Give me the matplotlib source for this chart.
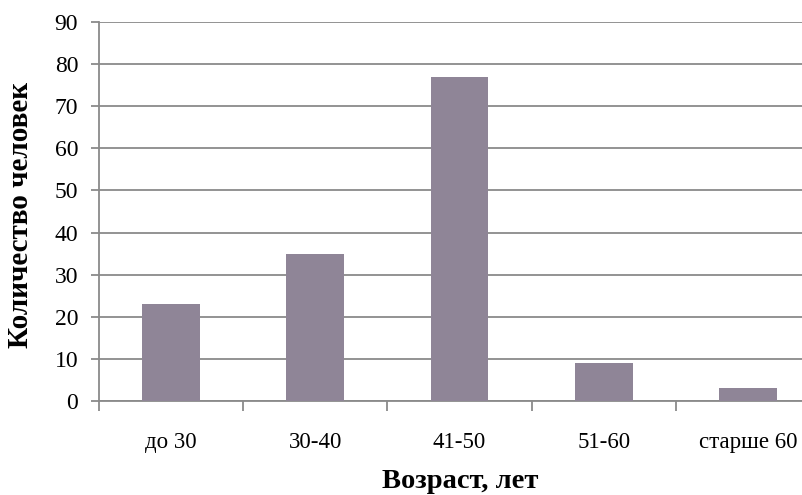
import matplotlib
matplotlib.use("Agg")
import matplotlib.pyplot as plt

# Age groups and number of people
categories = ["до 30", "30-40", "41-50", "51-60", "старше 60"]
counts = [23, 35, 77, 9, 3]
yticks = [0, 10, 20, 30, 40, 50, 60, 70, 80, 90]

bar_color = "#8f8597"
grid_color = "#8a8a8a"

plt.rcParams["font.family"] = ["Liberation Serif", "DejaVu Serif"]

fig = plt.figure(figsize=(8.02, 4.95), dpi=100)
# plot area runs a bit past the right edge, as in the reference
ax = fig.add_axes([99 / 802, 94 / 495, 721 / 802, 379 / 495])

x = list(range(len(categories)))
ax.bar(x, counts, width=0.4, color=bar_color, zorder=3)

ax.set_xlim(-0.5, len(categories) - 0.5)
ax.set_ylim(0, 90)
ax.set_yticks(yticks)
ax.yaxis.grid(True, color=grid_color, linewidth=1.3, zorder=0)

# category boundaries as tick marks, labels centred between them
ax.set_xticks([i - 0.5 for i in range(len(categories) + 1)])
ax.set_xticklabels([])
ax.set_xticks(x, minor=True)
ax.set_xticklabels(categories, minor=True, fontsize=16.5)
ax.tick_params(axis="x", which="major", length=7, width=1.3, color=grid_color, direction="out")
ax.tick_params(axis="x", which="minor", length=0, pad=22)
ax.tick_params(axis="y", length=6, width=1.3, color=grid_color, labelsize=17, pad=9)

for side in ["top", "right"]:
    ax.spines[side].set_visible(False)
for side in ["left", "bottom"]:
    ax.spines[side].set_color(grid_color)
    ax.spines[side].set_linewidth(1.3)

fig.text(460 / 802, 1 - 482 / 495, "Возраст, лет", ha="center", va="center",
         fontsize=20.5, fontweight="bold")
fig.text(21 / 802, 1 - 215 / 495, "Количество человек", ha="center", va="center",
         rotation=90, fontsize=21, fontweight="bold")

fig.savefig("out.png", dpi=100)
